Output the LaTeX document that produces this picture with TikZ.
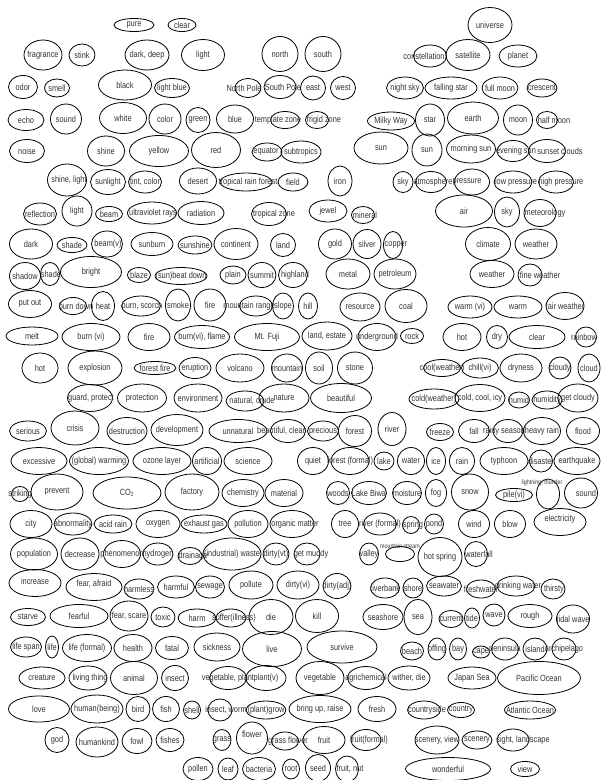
\documentclass[tikz,border=0pt]{standalone}
\usepackage{fontspec}
\newfontfamily\wordfont[FakeStretch=0.82]{Liberation Sans}
\usetikzlibrary{shapes.geometric}

% one word: ellipse of fixed size, its label may run over the rim
\newcommand{\wnode}[7]{%
  \node[wordell, minimum width=#4pt, minimum height=#5pt] (#1) at (#2,#3) {};
  \node[wordtxt, #6] (#1-t) at (#1.center) {#7};}

\begin{document}
\begin{tikzpicture}[
    x=1pt, y=-1pt,
    wordell/.style={ellipse, draw=black, line width=0.8pt, inner sep=0pt},
    wordtxt/.style={font=\wordfont\fontsize{9}{10}\selectfont, text=black!80, inner sep=0pt},
    smalltxt/.style={font=\wordfont\fontsize{6.5}{7}\selectfont},
  ]
  \useasboundingbox (0,0) rectangle (601,780);

  % row 1
  \wnode{pure}{134}{25}{40}{13}{}{pure}
  \wnode{clear}{182}{25}{28}{13}{}{clear}
  \wnode{universe}{490}{25}{44}{35}{}{universe}
  % row 2
  \wnode{fragrance}{43}{55}{38}{30}{}{fragrance}
  \wnode{stink}{82}{55}{26}{22}{}{stink}
  \wnode{darkdeep}{147}{55}{44}{30}{}{dark, deep}
  \wnode{light}{203}{55}{43}{31}{}{light}
  \wnode{north}{280}{54}{36}{35}{}{north}
  \wnode{south}{323}{54}{36}{35}{}{south}
  \wnode{constellation}{430}{56}{33}{22}{xshift=-6}{constellation}
  \wnode{satellite}{468}{55}{44}{31}{}{satellite}
  \wnode{planet}{518}{56}{38}{22}{}{planet}
  % row 3
  \wnode{odor}{23}{87}{29}{23}{}{odor}
  \wnode{smell}{57}{88}{25}{18}{}{smell}
  \wnode{black}{125}{85}{53}{30}{}{black}
  \wnode{lightblue}{172}{88}{35}{19}{}{light blue}
  \wnode{northpole}{248}{88}{26}{19}{xshift=-4}{North Pole}
  \wnode{southpole}{280}{87}{32}{23}{xshift=3}{South Pole}
  \wnode{east}{313}{88}{25}{24}{}{east}
  \wnode{west}{343}{88}{25}{23}{}{west}
  \wnode{nightsky}{405}{88}{37}{22}{}{night sky}
  \wnode{fallingstar}{451}{88}{52}{22}{}{falling star}
  \wnode{fullmoon}{500}{88}{36}{22}{}{full moon}
  \wnode{crescent}{542}{88}{30}{18}{}{crescent}
  % row 4
  \wnode{echo}{26}{120}{36}{21}{}{echo}
  \wnode{sound}{66}{119}{31}{30}{}{sound}
  \wnode{white}{123}{118}{47}{31}{}{white}
  \wnode{color}{165}{119}{32}{30}{}{color}
  \wnode{green}{198}{120}{24}{25}{}{green}
  \wnode{blue}{235}{119}{37}{28}{}{blue}
  \wnode{templatezone}{285}{120}{29}{17}{xshift=-7}{template zone}
  \wnode{frigidzone}{317}{120}{23}{17}{xshift=7}{frigid zone}
  \wnode{milkyway}{391}{121}{47}{18}{}{Milky Way}
  \wnode{star}{430}{120}{29}{32}{}{star}
  \wnode{earth}{473}{118}{51}{32}{}{earth}
  \wnode{moon}{518}{120}{29}{30}{}{moon}
  \wnode{halfmoon}{547}{120}{21}{17}{xshift=7}{half moon}
  % row 5
  \wnode{noise}{27}{151}{35}{23}{}{noise}
  \wnode{shine}{106}{151}{37}{30}{}{shine}
  \wnode{yellow}{159}{151}{59}{31}{}{yellow}
  \wnode{red}{216}{150}{49}{35}{}{red}
  \wnode{equator}{267}{152}{30}{18}{xshift=-1}{equator}
  \wnode{subtropics}{301}{152}{40}{22}{}{subtropics}
  \wnode{sun}{381}{148}{54}{32}{}{sun}
  \wnode{sun2}{427}{150}{30}{32}{}{sun}
  \wnode{morningsun}{471}{149}{49}{28}{}{morning sun}
  \wnode{eveningsun}{513}{151}{32}{21}{xshift=3}{evening sun}
  \wnode{sunsetclouds}{547}{151}{37}{23}{xshift=13}{sunset clouds}
  % row 6
  \wnode{shinelight}{67}{180}{39}{32}{xshift=2}{shine, light}
  \wnode{sunlight}{108}{182}{35}{25}{}{sunlight}
  \wnode{tintcolor}{145}{182}{33}{22}{}{tint, color}
  \wnode{desert}{198}{181}{37}{26}{}{desert}
  \wnode{rainforest}{246}{182}{52}{18}{xshift=2}{tropical rain forest}
  \wnode{field}{293}{182}{30}{18}{}{field}
  \wnode{iron}{340}{181}{24}{30}{}{iron}
  \wnode{sky}{403}{182}{20}{21}{}{sky}
  \wnode{atmosphere}{431}{182}{31}{21}{xshift=2}{atmosphere}
  \wnode{pressure}{472}{182}{35}{26}{xshift=-5}{pressure}
  \wnode{lowpressure}{513}{182}{38}{22}{xshift=3}{low pressure}
  \wnode{highpressure}{556}{182}{35}{22}{xshift=5}{high pressure}
  % row 7
  \wnode{reflection}{40}{214}{33}{22}{}{reflection}
  \wnode{light2}{77}{211}{30}{30}{}{light}
  \wnode{beam}{109}{214}{27}{15}{}{beam}
  \wnode{ultraviolet}{152}{213}{49}{22}{xshift=1}{ultraviolet rays}
  \wnode{radiation}{201}{213}{46}{23}{}{radiation}
  \wnode{tropicalzone}{269}{214}{35}{23}{xshift=5}{tropical zone}
  \wnode{jewel}{328}{211}{38}{22}{}{jewel}
  \wnode{mineral}{363}{215}{23}{17}{xshift=2}{mineral}
  \wnode{air}{464}{211}{57}{32}{}{air}
  \wnode{sky2}{507}{212}{25}{30}{}{sky}
  \wnode{meteorology}{540}{213}{32}{27}{xshift=5}{meteorology}
  % row 8
  \wnode{dark}{31}{244}{43}{30}{}{dark}
  \wnode{shade}{72}{245}{30}{15}{}{shade}
  \wnode{beamv}{107}{244}{31}{26}{xshift=1}{beam(v)}
  \wnode{sunburn}{152}{244}{42}{23}{}{sunburn}
  \wnode{sunshine}{195}{245}{34}{18}{}{sunshine}
  \wnode{continent}{236}{244}{44}{31}{}{continent}
  \wnode{land}{283}{245}{25}{23}{}{land}
  \wnode{gold}{335}{244}{33}{30}{}{gold}
  \wnode{silver}{367}{244}{28}{29}{}{silver}
  \wnode{copper}{393}{245}{19}{27}{xshift=3}{copper}
  \wnode{climate}{488}{244}{45}{33}{}{climate}
  \wnode{weather}{536}{244}{42}{30}{}{weather}
  % row 9
  \wnode{shadow}{25}{276}{31}{27}{}{shadow}
  \wnode{shade2}{50}{274}{19}{23}{xshift=1}{shade}
  \wnode{bright}{91}{272}{61}{31}{}{bright}
  \wnode{blaze}{139}{275}{23}{15}{}{blaze}
  \wnode{beatdown}{181}{276}{52}{17}{}{(sun)beat down}
  \wnode{plain}{233}{275}{26}{18}{}{plain}
  \wnode{summit}{262}{275}{28}{25}{}{summit}
  \wnode{highland}{293}{275}{29}{25}{xshift=2}{highland}
  \wnode{metal}{348}{274}{44}{30}{}{metal}
  \wnode{petroleum}{395}{274}{42}{30}{}{petroleum}
  \wnode{weather2}{492}{274}{44}{27}{}{weather}
  \wnode{fineweather}{530}{275}{24}{22}{xshift=10}{fine weather}
  % row 10
  \wnode{putout}{30}{304}{43}{27}{}{put out}
  \wnode{burndown}{73}{306}{27}{17}{xshift=3}{burn down}
  \wnode{heat}{103}{306}{23}{29}{}{heat}
  \wnode{burnscorch}{141}{306}{39}{20}{xshift=1}{burn, scorch}
  \wnode{smoke}{178}{305}{25}{32}{}{smoke}
  \wnode{fire}{210}{305}{32}{32}{}{fire}
  \wnode{mountainrange}{256}{306}{33}{20}{xshift=-7}{mountain range}
  \wnode{slope}{283}{306}{21}{26}{}{slope}
  \wnode{hill}{308}{306}{19}{26}{}{hill}
  \wnode{resource}{360}{307}{40}{28}{}{resource}
  \wnode{coal}{406}{306}{42}{33}{}{coal}
  \wnode{warmvi}{470}{307}{44}{22}{}{warm (vi)}
  \wnode{warmadj}{518}{307}{48}{22}{}{warm}
  \wnode{fairweather}{565}{306}{38}{27}{}{fair weather}
  % row 11
  \wnode{melt}{32}{336}{52}{18}{}{melt}
  \wnode{burnvi}{91}{337}{58}{27}{}{burn (vi)}
  \wnode{fire2}{149}{337}{42}{27}{}{fire}
  \wnode{burnflame}{202}{337}{55}{23}{}{burn(vi), flame}
  \wnode{mtfuji}{267}{337}{65}{27}{}{Mt. Fuji}
  \wnode{landestate}{327}{336}{50}{28}{}{land, estate}
  \wnode{underground}{377}{337}{38}{27}{}{underground}
  \wnode{rock}{412}{336}{23}{15}{}{rock}
  \wnode{hot}{462}{337}{38}{27}{}{hot}
  \wnode{dry}{497}{337}{21}{23}{}{dry}
  \wnode{clear2}{537}{337}{56}{23}{}{clear}
  \wnode{rainbow}{586}{337}{21}{20}{xshift=-2}{rainbow}
  % row 12
  \wnode{hot2}{40}{368}{36}{30}{}{hot}
  \wnode{explosion}{95}{368}{54}{34}{}{explosion}
  \wnode{forestfire}{155}{368}{42}{13}{}{forest fire}
  \wnode{eruption}{195}{368}{32}{21}{}{eruption}
  \wnode{volcano}{240}{368}{48}{28}{}{volcano}
  \wnode{mountain}{287}{368}{31}{28}{}{mountain}
  \wnode{soil}{319}{368}{27}{32}{}{soil}
  \wnode{stone}{355}{368}{35}{32}{}{stone}
  \wnode{coolweather}{442}{368}{37}{17}{}{cool(weather)}
  \wnode{chillvi}{480}{368}{37}{20}{}{chill(vi)}
  \wnode{dryness}{521}{368}{42}{28}{}{dryness}
  \wnode{cloudy}{560}{368}{22}{22}{}{cloudy}
  \wnode{cloud}{589}{368}{22}{28}{}{cloud}
  % row 13
  \wnode{guard}{90}{398}{45}{27}{xshift=1}{guard, protect}
  \wnode{protection}{142}{398}{49}{28}{}{protection}
  \wnode{environment}{198}{398}{48}{28}{}{environment}
  \wnode{natural}{245}{401}{38}{20}{xshift=7}{natural, crude}
  \wnode{nature}{284}{398}{50}{28}{}{nature}
  \wnode{beautiful}{341}{398}{61}{29}{}{beautiful}
  \wnode{coldweather}{434}{399}{50}{20}{}{cold(weather)}
  \wnode{coldcool}{480}{398}{50}{27}{}{cold, cool, icy}
  \wnode{humid}{519}{400}{21}{16}{}{humid}
  \wnode{humidity}{547}{400}{30}{18}{}{humidity}
  \wnode{getcloudy}{578}{398}{40}{28}{}{get cloudy}
  % row 14
  \wnode{serious}{28}{431}{37}{20}{}{serious}
  \wnode{crisis}{75}{428}{48}{34}{}{crisis}
  \wnode{destruction}{127}{431}{40}{27}{}{destruction}
  \wnode{development}{177}{430}{52}{31}{}{development}
  \wnode{unnatural}{238}{431}{58}{23}{}{unnatural}
  \wnode{beautclean}{288}{431}{35}{23}{xshift=-6}{beautiful, clean}
  \wnode{precious}{323}{431}{31}{20}{}{precious}
  \wnode{forest}{355}{431}{33}{31}{}{forest}
  \wnode{river}{392}{429}{28}{33}{}{river}
  \wnode{freeze}{440}{432}{27}{17}{}{freeze}
  \wnode{fall}{474}{431}{31}{23}{}{fall}
  \wnode{rainyseason}{508}{431}{30}{23}{xshift=-4}{rainy season}
  \wnode{heavyrain}{542}{431}{37}{27}{}{heavy rain}
  \wnode{flood}{583}{431}{33}{27}{}{flood}
  % row 15
  \wnode{excessive}{39}{461}{56}{27}{}{excessive}
  \wnode{warming}{99}{461}{59}{27}{}{(global) warming}
  \wnode{ozone}{162}{461}{58}{27}{}{ozone layer}
  \wnode{artificial}{207}{461}{29}{27}{}{artificial}
  \wnode{science}{248}{461}{48}{27}{}{science}
  \wnode{quiet}{313}{461}{31}{27}{}{quiet}
  \wnode{forestformal}{350}{461}{38}{27}{}{forest (formal)}
  \wnode{lake}{384}{461}{20}{18}{}{lake}
  \wnode{water}{411}{461}{27}{27}{}{water}
  \wnode{ice}{436}{461}{19}{27}{}{ice}
  \wnode{rain}{462}{461}{25}{27}{}{rain}
  \wnode{typhoon}{504}{461}{48}{27}{}{typhoon}
  \wnode{disaster}{541}{461}{23}{22}{}{disaster}
  \wnode{earthquake}{577}{461}{46}{27}{}{earthquake}
  % row 16
  \wnode{striking}{20}{494}{17}{15}{}{striking}
  \wnode{prevent}{57}{492}{52}{36}{}{prevent}
  \wnode{cotwo}{127}{493}{68}{32}{}{CO\textsubscript{2}}
  \wnode{factory}{192}{492}{54}{36}{}{factory}
  \wnode{chemistry}{243}{493}{42}{27}{}{chemistry}
  \wnode{material}{284}{493}{38}{27}{}{material}
  \wnode{woods}{338}{493}{23}{23}{}{woods}
  \wnode{lakebiwa}{369}{493}{35}{23}{}{Lake Biwa}
  \wnode{moisture}{407}{493}{29}{23}{}{moisture}
  \wnode{fog}{436}{493}{21}{27}{}{fog}
  \wnode{snow}{470}{492}{37}{36}{}{snow}
  \wnode{pilevi}{514}{495}{37}{13}{}{pile(vi)}
  \wnode{thunder}{548}{494}{23}{30}{smalltxt, xshift=-6, yshift=11}{lightning, thunder}
  \wnode{sound2}{581}{493}{33}{30}{xshift=5}{sound}
  % row 17
  \wnode{city}{31}{524}{42}{27}{}{city}
  \wnode{abnormality}{73}{524}{38}{22}{}{abnormality}
  \wnode{acidrain}{113}{524}{38}{18}{}{acid rain}
  \wnode{oxygen}{158}{524}{44}{27}{}{oxygen}
  \wnode{exhaustgas}{204}{524}{46}{18}{}{exhaust gas}
  \wnode{pollution}{248}{524}{40}{27}{}{pollution}
  \wnode{organic}{292}{524}{44}{27}{xshift=3}{organic matter}
  \wnode{tree}{345}{524}{27}{27}{}{tree}
  \wnode{riverformal}{380}{524}{33}{22}{}{river (formal)}
  \wnode{spring}{411}{525}{17}{17}{xshift=2}{spring}
  \wnode{pond}{434}{524}{19}{20}{}{pond}
  \wnode{wind}{474}{524}{31}{27}{}{wind}
  \wnode{blow}{510}{524}{31}{27}{}{blow}
  \wnode{electricity}{560}{522}{52}{27}{yshift=3}{electricity}
  % row 18
  \wnode{population}{34}{554}{47}{32}{}{population}
  \wnode{decrease}{80}{554}{38}{32}{}{decrease}
  \wnode{phenomenon}{122}{554}{37}{27}{}{phenomenon}
  \wnode{hydrogen}{158}{554}{30}{22}{}{hydrogen}
  \wnode{drainage}{190}{556}{24}{17}{xshift=3}{drainage}
  \wnode{indwaste}{232}{554}{58}{32}{}{(industrial) waste}
  \wnode{dirtyvt}{276}{554}{26}{22}{}{dirty(vt)}
  \wnode{getmuddy}{307}{554}{26}{22}{xshift=4}{get muddy}
  \wnode{valley}{369}{554}{19}{22}{}{valley}
  \wnode{mtstream}{400}{554}{29}{15}{smalltxt, yshift=8}{mountain stream}
  \wnode{hotspring}{440}{557}{44}{39}{}{hot spring}
  \wnode{waterfall}{476}{554}{23}{25}{xshift=3}{waterfall}
  % row 19
  \wnode{increase}{35}{583}{52}{27}{yshift=2}{increase}
  \wnode{fearafraid}{94}{587}{56}{27}{yshift=3}{fear, afraid}
  \wnode{harmless}{139}{589}{30}{20}{}{harmless}
  \wnode{harmful}{176}{587}{37}{22}{}{harmful}
  \wnode{sewage}{210}{587}{29}{22}{}{sewage}
  \wnode{pollute}{251}{585}{44}{28}{}{pollute}
  \wnode{dirtyvi}{298}{585}{42}{28}{}{dirty(vi)}
  \wnode{dirtyadj}{337}{586}{28}{25}{}{dirty(adj)}
  \wnode{riverbank}{385}{588}{29}{20}{}{riverbank}
  \wnode{shore}{413}{588}{20}{20}{}{shore}
  \wnode{seawater}{444}{586}{35}{20}{}{seawater}
  \wnode{freshwater}{481}{589}{29}{18}{}{freshwater}
  \wnode{drinking}{516}{586}{38}{20}{xshift=2}{drinking water}
  \wnode{thirsty}{553}{589}{24}{20}{xshift=1}{thirsty}
  % row 20
  \wnode{starve}{28}{617}{35}{17}{}{starve}
  \wnode{fearful}{79}{616}{58}{23}{}{fearful}
  \wnode{fearscare}{129}{616}{38}{30}{}{fear, scare}
  \wnode{toxic}{163}{617}{24}{20}{}{toxic}
  \wnode{harm}{197}{618}{38}{18}{}{harm}
  \wnode{suffer}{231}{618}{30}{18}{xshift=3}{suffer(illness)}
  \wnode{die}{271}{617}{44}{35}{}{die}
  \wnode{kill}{317}{616}{43}{33}{}{kill}
  \wnode{seashore}{383}{617}{40}{25}{}{seashore}
  \wnode{sea}{418}{617}{28}{35}{}{sea}
  \wnode{current}{451}{619}{24}{17}{}{current}
  \wnode{tide}{472}{618}{15}{20}{}{tide}
  \wnode{wave}{494}{615}{22}{22}{}{wave}
  \wnode{rough}{530}{616}{44}{23}{}{rough}
  \wnode{tidalwave}{573}{619}{33}{28}{}{tidal wave}
  % row 21
  \wnode{lifespan}{26}{647}{31}{20}{}{life span}
  \wnode{life}{52}{647}{13}{22}{}{life}
  \wnode{lifeformal}{87}{648}{49}{27}{}{life (formal)}
  \wnode{health}{133}{648}{38}{27}{}{health}
  \wnode{fatal}{172}{648}{33}{23}{}{fatal}
  \wnode{sickness}{217}{647}{46}{28}{}{sickness}
  \wnode{live}{272}{649}{59}{35}{}{live}
  \wnode{survive}{342}{647}{70}{32}{}{survive}
  \wnode{beach}{412}{651}{23}{18}{}{beach}
  \wnode{offing}{437}{649}{18}{22}{}{offing}
  \wnode{bay}{458}{649}{17}{22}{}{bay}
  \wnode{cape}{481}{652}{17}{12}{}{cape}
  \wnode{peninsula}{505}{649}{27}{22}{}{peninsula}
  \wnode{island}{535}{649}{24}{22}{}{island}
  \wnode{archipelago}{564}{649}{24}{22}{}{archipelago}
  % row 22
  \wnode{creature}{42}{678}{46}{22}{}{creature}
  \wnode{livingthing}{88}{678}{38}{24}{xshift=2}{living thing}
  \wnode{animal}{134}{678}{47}{33}{}{animal}
  \wnode{insect}{175}{678}{27}{25}{}{insect}
  \wnode{vegplant}{228}{678}{37}{23}{}{vegetable, plant}
  \wnode{plantv}{266}{678}{40}{25}{}{plant(v)}
  \wnode{vegetable}{320}{678}{48}{33}{}{vegetable}
  \wnode{agrichemical}{366}{678}{37}{23}{}{agrichemical}
  \wnode{witherdie}{409}{678}{42}{24}{}{wither, die}
  \wnode{japansea}{472}{678}{48}{22}{}{Japan Sea}
  \wnode{pacific}{539}{678}{83}{33}{}{Pacific Ocean}
  % row 23
  \wnode{love}{39}{709}{61}{26}{}{love}
  \wnode{human}{97}{709}{52}{28}{}{human(being)}
  \wnode{bird}{138}{709}{24}{25}{}{bird}
  \wnode{fish}{166}{709}{27}{25}{}{fish}
  \wnode{shell}{192}{710}{17}{18}{}{shell}
  \wnode{insectworm}{220}{710}{24}{22}{xshift=6}{insect, worm}
  \wnode{plantgrow}{266}{710}{40}{18}{}{(plant)grow}
  \wnode{bringup}{320}{709}{62}{27}{}{bring up, raise}
  \wnode{fresh}{377}{709}{38}{25}{}{fresh}
  \wnode{countryside}{424}{710}{33}{18}{xshift=3}{countryside}
  \wnode{country}{461}{710}{27}{15}{}{country}
  \wnode{atlantic}{530}{710}{51}{18}{}{Atlantic Ocean}
  % row 24
  \wnode{god}{57}{740}{24}{25}{}{god}
  \wnode{humankind}{97}{742}{42}{30}{}{humankind}
  \wnode{fowl}{137}{741}{30}{25}{}{fowl}
  \wnode{fishes}{170}{740}{28}{23}{}{fishes}
  \wnode{grass}{222}{740}{18}{21}{}{grass}
  \wnode{flower}{252}{738}{31}{32}{yshift=4}{flower}
  \wnode{grassflower}{285}{741}{27}{18}{xshift=3}{grass flower}
  \wnode{fruit}{324}{740}{42}{27}{}{fruit}
  \wnode{fruitformal}{366}{740}{30}{21}{xshift=3}{fruit(formal)}
  \wnode{sceneryview}{437}{740}{44}{28}{}{scenery, view}
  \wnode{scenery}{477}{740}{30}{18}{}{scenery}
  \wnode{sight}{513}{740}{32}{22}{xshift=10}{sight, landscape}
  % row 25
  \wnode{pollen}{198}{769}{30}{23}{}{pollen}
  \wnode{leaf}{228}{769}{20}{22}{}{leaf}
  \wnode{bacteria}{259}{769}{33}{23}{}{bacteria}
  \wnode{root}{291}{769}{17}{20}{}{root}
  \wnode{seed}{318}{768}{25}{27}{}{seed}
  \wnode{fruitnut}{347}{769}{23}{26}{xshift=3}{fruit, nut}
  \wnode{wonderful}{448}{769}{85}{23}{}{wonderful}
  \wnode{view}{525}{769}{29}{15}{}{view}
\end{tikzpicture}
\end{document}
